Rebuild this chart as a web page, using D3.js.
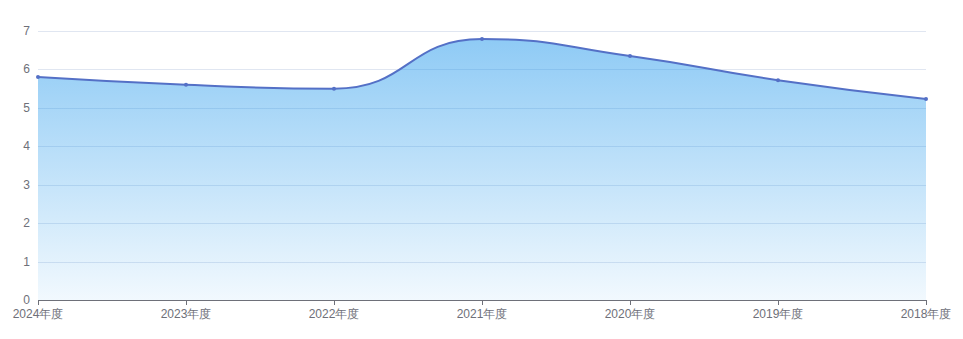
<!DOCTYPE html>
<html>
<head>
<meta charset="utf-8">
<script src="https://cdn.jsdelivr.net/npm/d3@7"></script>
<style>
  body { margin: 0; background: #fff; }
  #chart { width: 963px; height: 339px; }
  text { font-family: sans-serif; font-size: 12px; fill: #6e7079; }
</style>
</head>
<body>
<div id="chart"></div>
<script>
const years = ["2024年度", "2023年度", "2022年度", "2021年度", "2020年度", "2019年度", "2018年度"];
const values = [5.8, 5.6, 5.5, 6.79, 6.35, 5.72, 5.23];
const yTicks = [0, 1, 2, 3, 4, 5, 6, 7];

const width = 963, height = 339;
const gLeft = 38, gRight = 926, gTop = 31, gBottom = 300;
const lineColor = "#5470c6";

const svg = d3.select("#chart").append("svg")
  .attr("width", width).attr("height", height);

const x = d3.scalePoint().domain(years).range([gLeft, gRight]);
const y = d3.scaleLinear().domain([0, 7]).range([gBottom, gTop]);

// echarts-like smooth bezier (smooth = 0.5)
function smoothPath(pts, p) {
  const smooth = 0.5;
  let prevX = pts[0][0], prevY = pts[0][1];
  let cpx0 = prevX, cpy0 = prevY;
  p.moveTo(pts[0][0], pts[0][1]);
  for (let i = 1; i < pts.length; i++) {
    const [xx, yy] = pts[i];
    let cpx1, cpy1, nextCpx0, nextCpy0;
    if (i + 1 >= pts.length) {
      cpx1 = xx; cpy1 = yy; nextCpx0 = xx; nextCpy0 = yy;
    } else {
      const [nx, ny] = pts[i + 1];
      let vx = nx - prevX, vy = ny - prevY;
      const dx0 = xx - prevX, dx1 = nx - xx, dy0 = yy - prevY, dy1 = ny - yy;
      const lenPrev = Math.sqrt(dx0 * dx0 + dy0 * dy0);
      const lenNext = Math.sqrt(dx1 * dx1 + dy1 * dy1);
      const ratio = lenNext / (lenNext + lenPrev);
      cpx1 = xx - vx * smooth * (1 - ratio);
      cpy1 = yy - vy * smooth * (1 - ratio);
      nextCpx0 = xx + vx * smooth * ratio;
      nextCpy0 = yy + vy * smooth * ratio;
      nextCpx0 = Math.max(Math.min(nextCpx0, Math.max(nx, xx)), Math.min(nx, xx));
      nextCpy0 = Math.max(Math.min(nextCpy0, Math.max(ny, yy)), Math.min(ny, yy));
      vx = nextCpx0 - xx; vy = nextCpy0 - yy;
      cpx1 = xx - vx * lenPrev / lenNext;
      cpy1 = yy - vy * lenPrev / lenNext;
      cpx1 = Math.max(Math.min(cpx1, Math.max(prevX, xx)), Math.min(prevX, xx));
      cpy1 = Math.max(Math.min(cpy1, Math.max(prevY, yy)), Math.min(prevY, yy));
      vx = xx - cpx1; vy = yy - cpy1;
      nextCpx0 = xx + vx * lenNext / lenPrev;
      nextCpy0 = yy + vy * lenNext / lenPrev;
    }
    p.bezierCurveTo(cpx0, cpy0, cpx1, cpy1, xx, yy);
    cpx0 = nextCpx0; cpy0 = nextCpy0;
    prevX = xx; prevY = yy;
  }
  return p;
}

const pts = years.map((d, i) => [x(d), y(values[i])]);

// grid
svg.append("g").selectAll("line")
  .data(yTicks.filter(d => d > 0))
  .join("line")
  .attr("x1", gLeft).attr("x2", gRight)
  .attr("y1", d => Math.round(y(d)) + 0.5).attr("y2", d => Math.round(y(d)) + 0.5)
  .attr("stroke", "#e0e6f1");

// gradient
const defs = svg.append("defs");
const grad = defs.append("linearGradient").attr("id", "areaGrad")
  .attr("x1", 0).attr("y1", 0).attr("x2", 0).attr("y2", 1);
grad.append("stop").attr("offset", "0%").attr("stop-color", "rgb(30,150,235)").attr("stop-opacity", 0.5);
grad.append("stop").attr("offset", "100%").attr("stop-color", "rgb(30,150,235)").attr("stop-opacity", 0.06);

const ap = d3.path();
smoothPath(pts, ap);
ap.lineTo(gRight, y(0));
ap.lineTo(gLeft, y(0));
ap.closePath();
svg.append("path").attr("d", ap.toString()).attr("fill", "url(#areaGrad)");

const lp = d3.path();
smoothPath(pts, lp);
svg.append("path").attr("d", lp.toString())
  .attr("fill", "none").attr("stroke", lineColor).attr("stroke-width", 2)
  .attr("stroke-linejoin", "round");

svg.append("g").selectAll("circle")
  .data(pts).join("circle")
  .attr("cx", d => d[0]).attr("cy", d => d[1]).attr("r", 2)
  .attr("fill", lineColor);

// x axis
const xg = svg.append("g").attr("transform", `translate(0,${gBottom})`);
xg.append("line").attr("x1", gLeft).attr("x2", gRight).attr("y1", 0.5).attr("y2", 0.5)
  .attr("stroke", "#6e7079");
xg.selectAll(".tk").data(years).join("line")
  .attr("x1", d => Math.round(x(d)) + 0.5).attr("x2", d => Math.round(x(d)) + 0.5)
  .attr("y1", 0).attr("y2", 5).attr("stroke", "#6e7079");
xg.selectAll("text").data(years).join("text")
  .attr("x", d => x(d)).attr("y", 18)
  .attr("text-anchor", "middle")
  .text(d => d);

// y labels
svg.append("g").selectAll("text").data(yTicks).join("text")
  .attr("x", 30).attr("y", d => y(d) + 4)
  .attr("text-anchor", "end")
  .text(d => d);
</script>
</body>
</html>
